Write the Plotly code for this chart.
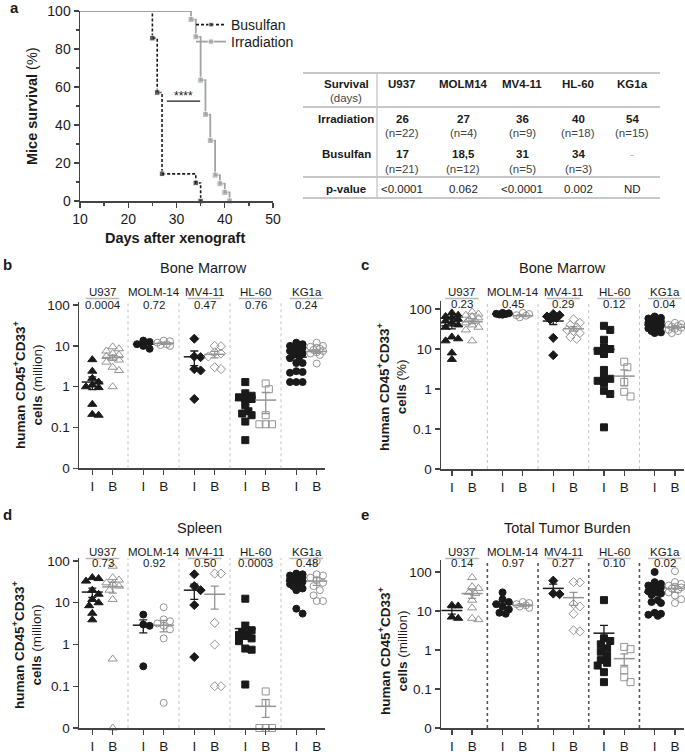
import numpy as np
import plotly.graph_objects as go

W, H = 685, 754
FONT = "Liberation Sans, Arial, sans-serif"
INK = "#1a1a1a"
GRAY = "#949494"
LGRAY = "#a3a3a3"
AXC = "#444444"

# ---------------- Panel a : survival ----------------
bus_days = [10, 25, 26, 27, 34, 35]
bus_surv = [100, 85.7, 57.1, 14.3, 9.5, 0]
irr_days = [10, 33, 34, 35, 36, 37, 38, 39, 40, 41]
irr_surv = [100, 95.5, 86.4, 63.6, 45.5, 31.8, 13.6, 9.1, 4.5, 0]

# ---------------- Table ----------------
tbl_cols = ["U937", "MOLM14", "MV4-11", "HL-60", "KG1a"]
irr_median = ["26", "27", "36", "40", "54"]
irr_n = ["(n=22)", "(n=4)", "(n=9)", "(n=18)", "(n=15)"]
bus_median = ["17", "18,5", "31", "34", "-"]
bus_n = ["(n=21)", "(n=12)", "(n=5)", "(n=3)", ""]
tbl_p = ["<0.0001", "0.062", "<0.0001", "0.002", "ND"]

# ---------------- Scatter panels ----------------
cell_lines = ["U937", "MOLM-14", "MV4-11", "HL-60", "KG1a"]
symbols = ["triangle-up", "circle", "diamond", "square", "circle"]
ZERO_AT = 0.01  # position of the "0" tick on the log axes

# b: Bone marrow, million cells
b_irr = [
    [4.6, 2.4, 1.6, 1.3, 1.1, 1.0, 0.95, 0.37, 0.21, 0.2],
    [13.5, 12.5, 11, 10, 8.5],
    [15, 5.5, 5.3, 2.7, 2.5, 0.5],
    [1.3, 0.69, 0.6, 0.55, 0.5, 0.5, 0.35, 0.25, 0.22, 0.2, 0.14, 0.049],
    [12, 11, 10, 9.5, 9, 8.5, 8, 7.5, 7, 6.5, 6, 5.5, 5, 3.8, 3.8, 2.4, 2.2, 2.3, 1.3, 1.3, 1.3],
]
b_bus = [
    [9.5, 8.5, 7.5, 6.5, 6, 5.5, 5, 4.5, 4, 3, 2.5, 1.0],
    [13.5, 13, 12, 11, 10.5, 10],
    [10, 9.8, 7, 6.5, 5.5, 3, 2.7],
    [1.2, 0.87, 0.2, 0.12, 0.12, 0.12],
    [12, 10, 9.5, 9, 8.5, 8, 7.5, 7, 6.5, 6, 3.7],
]
b_irr_mean = [1.3, 11, 5.4, 0.46, 5.3]
b_irr_sem = [0.45, 1.0, 2.1, 0.1, 0.8]
b_bus_mean = [5.2, 11.5, 6.2, 0.47, 7.3]
b_bus_sem = [0.7, 0.6, 1.1, 0.25, 0.7]
b_p = ["0.0004", "0.72", "0.47", "0.76", "0.24"]

# c: Bone marrow, %
c_irr = [
    [80, 70, 65, 60, 55, 50, 45, 40, 35, 20, 18, 16, 8, 5.5],
    [80, 78, 76, 75, 73, 72],
    [75, 70, 65, 60, 55, 19, 7],
    [38, 30, 17, 11, 10, 9, 7.5, 3, 2, 1.8, 1.6, 1.4, 0.9, 0.75, 0.11],
    [65, 60, 58, 55, 52, 50, 48, 45, 42, 40, 38, 35, 33, 30, 28, 26, 25],
]
c_bus = [
    [85, 75, 70, 65, 60, 55, 50, 45, 40, 35, 30, 16],
    [80, 75, 70, 68, 62],
    [55, 45, 40, 35, 30, 28, 25, 20, 18],
    [4.8, 3.5, 1.5, 0.85, 0.65],
    [45, 42, 40, 38, 36, 34, 32, 30, 28, 25],
]
c_irr_mean = [38, 75, 50, 9.8, 40]
c_irr_sem = [6, 1.5, 9, 3, 3]
c_bus_mean = [48, 68, 32, 2.1, 35]
c_bus_sem = [5, 3, 4, 0.9, 2]
c_p = ["0.23", "0.45", "0.29", "0.12", "0.04"]

# d: Spleen, million cells
d_irr = [
    [40, 38, 33, 20, 16, 12, 10, 8.5, 5.6, 3.9],
    [5.2, 3.0, 2.8, 0.3],
    [48, 25, 20, 8.8, 0.5],
    [12.5, 2.8, 2.2, 2.0, 1.8, 1.7, 1.6, 1.4, 1.2, 0.8, 0.75, 0.11],
    [50, 48, 45, 44, 42, 40, 38, 36, 35, 33, 32, 30, 28, 27, 25, 22, 20, 7.2, 5.5],
]
d_bus = [
    [75, 40, 35, 30, 28, 25, 20, 12, 0.45, 0],
    [7.8, 4, 3.6, 3.2, 2.8, 2.3, 1.4, 0.04],
    [50, 50, 3.3, 1.0, 0.1, 0.1],
    [0.075, 0.04, 0, 0, 0],
    [100, 48, 45, 40, 35, 30, 25, 20, 15, 11, 11],
]
d_irr_mean = [18, 2.9, 20, 2.4, 33]
d_irr_sem = [4.5, 1.0, 8, 1.0, 3]
d_bus_mean = [24, 2.9, 16, 0.033, 33]
d_bus_sem = [7, 0.9, 9, 0.015, 7]
d_p = ["0.73", "0.92", "0.50", "0.0003", "0.48"]

# e: Total tumor burden, million cells
e_irr = [
    [14, 13.5, 7, 6.5],
    [30, 20, 17, 15, 13, 11, 9, 8.5],
    [60, 28, 27],
    [19, 2.0, 1.7, 1.4, 1.1, 0.9, 0.7, 0.55, 0.47, 0.4, 0.27, 0.15],
    [100, 55, 50, 45, 42, 40, 38, 35, 32, 30, 28, 26, 19, 17, 16, 9, 8.5, 8, 7.5],
]
e_bus = [
    [72, 42, 38, 30, 28, 19, 12, 6.5, 6],
    [17, 16, 15, 14, 13, 12],
    [55, 54, 15, 13, 8.5, 3.2, 3.0],
    [1.2, 1.05, 0.3, 0.2, 0.15],
    [105, 55, 50, 45, 42, 40, 38, 35, 30, 25, 20, 16],
]
e_irr_mean = [10.3, 15, 38, 2.7, 30]
e_irr_sem = [2, 2.5, 11, 1.6, 5]
e_bus_mean = [28, 14, 22, 0.6, 38]
e_bus_sem = [7, 1, 8, 0.2, 8]
e_p = ["0.14", "0.97", "0.27", "0.10", "0.02"]


def fx(px):
    return px / W


def fy(py):
    return 1 - py / H


fig = go.Figure()
annotations = []
shapes = []


def note(x, y, text, size, color=INK, xanchor="center", angle=0, **kw):
    d = dict(xref="paper", yref="paper", x=fx(x), y=fy(y), text=text, showarrow=False,
             xanchor=xanchor, yanchor="middle", textangle=angle,
             font=dict(size=size, color=color))
    d.update(kw)
    annotations.append(d)


# ---------- Panel a ----------
ms_b = [0] + [5.5] * (len(bus_days) - 1)
ms_i = [0] + [6] * (len(irr_days) - 1)
fig.add_trace(go.Scatter(
    x=bus_days, y=bus_surv, mode="lines+markers", name="Busulfan", legend="legend",
    line=dict(color=INK, width=1.6, dash="3px,2px", shape="hv"),
    marker=dict(symbol="square", size=ms_b, color=INK),
    cliponaxis=False, xaxis="x", yaxis="y"))
fig.add_trace(go.Scatter(
    x=irr_days, y=irr_surv, mode="lines+markers", name="Irradiation", legend="legend2",
    line=dict(color=LGRAY, width=1.8, shape="hv"),
    marker=dict(symbol="square", size=ms_i, color=LGRAY),
    cliponaxis=False, xaxis="x", yaxis="y"))

layout_axes = {}
layout_axes["xaxis"] = dict(
    domain=[fx(80), fx(273)], range=[10, 50], anchor="y", automargin=False,
    tickvals=[10, 20, 30, 40, 50], ticks="outside", ticklen=5, tickwidth=1.3,
    tickcolor=AXC, showline=True, linecolor=AXC, linewidth=1.5,
    showgrid=False, zeroline=False, tickfont=dict(size=14, color=INK),
    minor=dict(ticks="outside", ticklen=3, dtick=5, tickcolor=AXC, showgrid=False))
layout_axes["yaxis"] = dict(
    domain=[fy(201), fy(11)], range=[0, 100], anchor="x", automargin=False,
    tickvals=[0, 20, 40, 60, 80, 100], ticks="outside", ticklen=5, tickwidth=1.3,
    tickcolor=AXC, showline=True, linecolor=AXC, linewidth=1.5,
    showgrid=False, zeroline=False, tickfont=dict(size=14, color=INK),
    minor=dict(ticks="outside", ticklen=3, dtick=10, tickcolor=AXC, showgrid=False))

shapes.append(dict(type="line", xref="x", yref="y", x0=28, x1=34.9, y0=52.6, y1=52.6,
                   line=dict(color=INK, width=1.3)))
annotations.append(dict(xref="x", yref="y", x=31.4, y=52.6, text="****", showarrow=False,
                        xanchor="center", yanchor="bottom", yshift=-4,
                        font=dict(size=12, color=INK)))
note(32, 106, "<b>Mice survival</b> (%)", 14.5, angle=-90)
note(175, 238, "<b>Days after xenograft</b>", 14.5)
note(8, 7, "<b>a</b>", 15, xanchor="left")

# ---------- Table ----------
TF = 11.5
tbl_x = [402, 463, 522, 578, 632]
lab_x = 346
for yy in [73, 107, 177, 198]:
    shapes.append(dict(type="line", xref="paper", yref="paper", x0=fx(303), x1=fx(660),
                       y0=fy(yy), y1=fy(yy), line=dict(color="#b5b5b5", width=1.6)))
shapes.append(dict(type="line", xref="paper", yref="paper", x0=fx(377), x1=fx(377),
                   y0=fy(73), y1=fy(198), line=dict(color="#c8c8c8", width=1.4)))

note(lab_x, 84, "<b>Survival</b>", TF)
note(lab_x, 98, "(days)", TF, color="#444")
note(lab_x, 119, "<b>Irradiation</b>", TF)
note(lab_x, 154, "<b>Busulfan</b>", TF)
note(lab_x, 189, "<b>p-value</b>", TF)
for i, c in enumerate(tbl_cols):
    tx = tbl_x[i]
    note(tx, 84, "<b>%s</b>" % c, TF)
    note(tx, 119, "<b>%s</b>" % irr_median[i], TF)
    note(tx, 133, irr_n[i], TF, color="#444")
    if bus_median[i] == "-":
        note(tx, 154, bus_median[i], TF, color="#aaa")
    else:
        note(tx, 154, "<b>%s</b>" % bus_median[i], TF)
    if bus_n[i]:
        note(tx, 169, bus_n[i], TF, color="#444")
    note(tx, 189, tbl_p[i], TF, color="#222")


# ---------- Scatter panel helpers ----------
def swarm(vals, ppu, ppd, diam=6.3, maxoff=8.5):
    ys = [np.log10(max(v, ZERO_AT)) * ppd for v in vals]
    order = sorted(range(len(vals)), key=lambda i: -ys[i])
    step = diam * 0.5
    cands = [0.0]
    k = 1
    while k * step <= maxoff:
        cands += [k * step, -k * step]
        k += 1
    placed = []
    offs = [0.0] * len(vals)
    for i in order:
        best, best_d = 0.0, -1.0
        for c in cands:
            d = min((np.hypot(c - px, ys[i] - py) for px, py in placed), default=1e9)
            if d >= diam:
                best = c
                break
            if d > best_d:
                best, best_d = c, d
        placed.append((best, ys[i]))
        offs[i] = best / ppu
    return offs


def add_panel(n, geo, irr, bus, irr_mean, irr_sem, bus_mean, bus_sem, pvals,
              title, letter, ytitle, sep_style):
    left, right, g0, ppu, bottom, ppd, top, title_y, lab_y, p_y, letter_xy, yt_xy, title_x = geo
    xa, ya = "x%d" % n, "y%d" % n
    ytop_px = bottom - (top + 2) * ppd
    layout_axes["xaxis%d" % n] = dict(
        domain=[fx(left), fx(right)], range=[(left - g0) / ppu, (right - g0) / ppu],
        anchor=ya, automargin=False,
        tickvals=[g + s for g in range(5) for s in (-0.2, 0.2)],
        ticktext=["I", "B"] * 5, ticks="outside", ticklen=5, tickwidth=1.3, tickcolor=AXC,
        showline=True, linecolor=AXC, linewidth=1.5, showgrid=False, zeroline=False,
        tickfont=dict(size=13.5, color=INK))
    layout_axes["yaxis%d" % n] = dict(
        domain=[fy(bottom), fy(ytop_px)], range=[-2, top], type="log", anchor=xa,
        automargin=False,
        tickvals=[0.01, 0.1, 1, 10, 100], ticktext=["0", "0.1", "1", "10", "100"],
        ticks="outside", ticklen=5, tickwidth=1.3, tickcolor=AXC,
        showline=True, linecolor=AXC, linewidth=1.5, showgrid=False, zeroline=False,
        tickfont=dict(size=13.5, color=INK))
    for g in range(5):
        for side, vals, col, sym, mean, sem in (
                (-0.2, irr[g], INK, symbols[g], irr_mean[g], irr_sem[g]),
                (0.2, bus[g], GRAY, symbols[g] + "-open", bus_mean[g], bus_sem[g])):
            offs = swarm(vals, ppu, ppd)
            xs = [g + side + o for o in offs]
            ys = [max(v, ZERO_AT) for v in vals]
            size = 8 if symbols[g] == "triangle-up" else 7
            fig.add_trace(go.Scatter(
                x=xs, y=ys, mode="markers", xaxis=xa, yaxis=ya, showlegend=False,
                cliponaxis=False,
                marker=dict(symbol=sym, size=size, color=col,
                            line=dict(color=col, width=1.0))))
            fig.add_trace(go.Scatter(
                x=[g + side], y=[mean], mode="markers", xaxis=xa, yaxis=ya,
                showlegend=False, cliponaxis=False,
                marker=dict(symbol="line-ew", size=15, color=col,
                            line=dict(color=col, width=1.5)),
                error_y=dict(type="data", array=[sem], arrayminus=[min(sem, mean * 0.6)],
                             color=col, thickness=1.3, width=4)))
        if g < 4:
            shapes.append(dict(type="line", xref=xa, yref=ya + " domain", x0=g + 0.5, x1=g + 0.5,
                               y0=0, y1=1, line=sep_style))
        annotations.append(dict(xref=xa, yref="paper", x=g, y=fy(lab_y), text=cell_lines[g],
                                showarrow=False, xanchor="center", yanchor="middle",
                                font=dict(size=11.5, color=INK)))
        if cell_lines[g] != "MOLM-14":
            shapes.append(dict(type="line", xref=xa, yref="paper", x0=g - 0.33, x1=g + 0.33,
                               y0=fy(lab_y + 6.5), y1=fy(lab_y + 6.5),
                               line=dict(color="#b8b8b8", width=1.6)))
        annotations.append(dict(xref=xa, yref="paper", x=g, y=fy(p_y), text=pvals[g],
                                showarrow=False, xanchor="center", yanchor="middle",
                                font=dict(size=11.5, color=INK)))
    note(title_x, title_y, title, 14.5)
    note(letter_xy[0], letter_xy[1], "<b>%s</b>" % letter, 15, xanchor="left")
    note(yt_xy[0], yt_xy[1],
         "<b>human CD45<sup>+</sup>CD33<sup>+</sup></b><br><b>cells</b> %s" % ytitle,
         13.5, angle=-90)


light_sep = dict(color="#c4c4c4", width=1, dash="dot")
dark_sep = dict(color="#555555", width=1.6, dash="dot")

# geo: left, right, g0, ppu, bottom, ppd, top, title_y, lab_y, p_y, letter_xy, yt_xy, title_x
add_panel(2, (79, 325, 102.5, 51, 468.3, 40.8, 2.07, 268, 292, 305, (1, 264), (27, 385), 203),
          b_irr, b_bus, b_irr_mean, b_irr_sem, b_bus_mean, b_bus_sem, b_p,
          "Bone Marrow", "b", "(million)", light_sep)
add_panel(3, (441, 684, 462, 50.7, 469, 40, 2.2, 268, 292, 304, (359, 264), (391, 387), 562),
          c_irr, c_bus, c_irr_mean, c_irr_sem, c_bus_mean, c_bus_sem, c_p,
          "Bone Marrow", "c", "(%)", light_sep)
add_panel(4, (79, 325, 102.5, 51, 728, 41.75, 2.07, 528, 552, 563, (1, 514), (26, 645), 200),
          d_irr, d_bus, d_irr_mean, d_irr_sem, d_bus_mean, d_bus_sem, d_p,
          "Spleen", "d", "(million)", light_sep)
add_panel(5, (441, 684, 462, 50.7, 728, 39, 2.3, 528, 552, 563, (359, 514), (392, 650), 567),
          e_irr, e_bus, e_irr_mean, e_irr_sem, e_bus_mean, e_bus_sem, e_p,
          "Total Tumor Burden", "e", "(million)", dark_sep)

leg_common = dict(xanchor="left", yanchor="middle", font=dict(size=14, color=INK),
                  bgcolor="rgba(0,0,0,0)", itemwidth=30, borderwidth=0)
fig.update_layout(
    width=W, height=H, margin=dict(l=0, r=0, t=0, b=0, pad=0, autoexpand=False),
    paper_bgcolor="white", plot_bgcolor="white",
    font=dict(family=FONT, color=INK),
    showlegend=True, hovermode=False,
    legend=dict(x=fx(191), y=fy(25), **leg_common),
    legend2=dict(x=fx(191), y=fy(42), **leg_common),
    annotations=annotations, shapes=shapes,
    **layout_axes)

fig.write_html("out.html", config={"displayModeBar": False, "staticPlot": True},
               post_script="document.body.style.margin='0px';")
